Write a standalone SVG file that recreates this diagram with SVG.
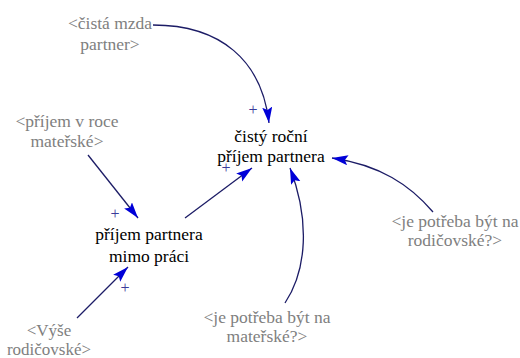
<svg xmlns="http://www.w3.org/2000/svg" width="520" height="358" viewBox="0 0 520 358">
<defs>
<marker id="ah" markerUnits="userSpaceOnUse" markerWidth="18" markerHeight="12" refX="16" refY="5" orient="auto">
<path d="M0,0 L16,5 L0,10 L3,5 z" fill="#0000d8"/>
</marker>
</defs>
<rect width="520" height="358" fill="#fff"/>
<g id="connectors" fill="none" stroke="#1c1c66" stroke-width="1.3">
<path marker-end="url(#ah)" d="M153,25 C220,25 262,60 269,123"/>
<path marker-end="url(#ah)" d="M88,155 L138,218"/>
<path marker-end="url(#ah)" d="M185,218 L252,168"/>
<path marker-end="url(#ah)" d="M285,303 C307,270 310,220 290,168"/>
<path marker-end="url(#ah)" d="M433,212 C410,185 380,165 332,158"/>
<path marker-end="url(#ah)" d="M77,318 L128,267"/>
</g>
<g id="polarities" fill="#3a3a9a">
<text x="253" y="115" style="font-family:'Liberation Serif','Times New Roman',serif;font-size:16px;text-anchor:middle">+</text>
<text x="226" y="173" style="font-family:'Liberation Serif','Times New Roman',serif;font-size:16px;text-anchor:middle">+</text>
<text x="115" y="219" style="font-family:'Liberation Serif','Times New Roman',serif;font-size:16px;text-anchor:middle">+</text>
<text x="125" y="293" style="font-family:'Liberation Serif','Times New Roman',serif;font-size:16px;text-anchor:middle">+</text>
</g>
<g id="cisty_rocni_prijem_partnera" fill="#000">
<text x="271" y="142" style="font-family:'Liberation Serif','Times New Roman',serif;font-size:17.5px;text-anchor:middle">čistý roční</text>
<text x="271" y="162" style="font-family:'Liberation Serif','Times New Roman',serif;font-size:17.5px;text-anchor:middle">příjem partnera</text>
</g>
<g id="prijem_partnera_mimo_praci" fill="#000">
<text x="149" y="240" style="font-family:'Liberation Serif','Times New Roman',serif;font-size:17.5px;text-anchor:middle">příjem partnera</text>
<text x="149" y="262" style="font-family:'Liberation Serif','Times New Roman',serif;font-size:17.5px;text-anchor:middle">mimo práci</text>
</g>
<g id="cista_mzda_partner" fill="#808080">
<text x="110" y="29" style="font-family:'Liberation Serif','Times New Roman',serif;font-size:17.5px;text-anchor:middle">&lt;čistá mzda</text>
<text x="110" y="50" style="font-family:'Liberation Serif','Times New Roman',serif;font-size:17.5px;text-anchor:middle">partner&gt;</text>
</g>
<g id="prijem_v_roce_materske" fill="#808080">
<text x="67" y="127" style="font-family:'Liberation Serif','Times New Roman',serif;font-size:17.5px;text-anchor:middle">&lt;příjem v roce</text>
<text x="67" y="147" style="font-family:'Liberation Serif','Times New Roman',serif;font-size:17.5px;text-anchor:middle">mateřské&gt;</text>
</g>
<g id="je_potreba_materske" fill="#808080">
<text x="267" y="323" style="font-family:'Liberation Serif','Times New Roman',serif;font-size:17.5px;text-anchor:middle">&lt;je potřeba být na</text>
<text x="267" y="342" style="font-family:'Liberation Serif','Times New Roman',serif;font-size:17.5px;text-anchor:middle">mateřské?&gt;</text>
</g>
<g id="je_potreba_rodicovske" fill="#808080">
<text x="455" y="227" style="font-family:'Liberation Serif','Times New Roman',serif;font-size:17.5px;text-anchor:middle">&lt;je potřeba být na</text>
<text x="455" y="246" style="font-family:'Liberation Serif','Times New Roman',serif;font-size:17.5px;text-anchor:middle">rodičovské?&gt;</text>
</g>
<g id="vyse_rodicovske" fill="#808080">
<text x="49" y="336" style="font-family:'Liberation Serif','Times New Roman',serif;font-size:17px;text-anchor:middle">&lt;Výše</text>
<text x="49" y="355" style="font-family:'Liberation Serif','Times New Roman',serif;font-size:17px;text-anchor:middle">rodičovské&gt;</text>
</g>
</svg>
